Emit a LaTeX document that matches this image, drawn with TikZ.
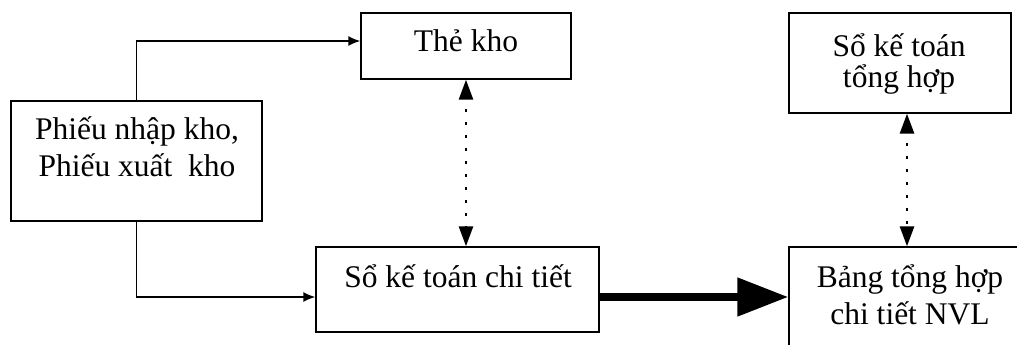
\documentclass[tikz,border=0pt]{standalone}
\usepackage{fontspec}
\setmainfont{Liberation Serif}
\usetikzlibrary{positioning,arrows.meta}

\begin{document}
\begin{tikzpicture}[x=1pt,y=-1pt,>={Latex[length=12pt,width=10pt]}]
    \tikzstyle{box}=[draw=black,line width=1.4pt,rectangle,inner sep=0pt]
    \tikzstyle{txt}=[align=center,inner sep=0pt,anchor=base,font=\fontsize{31.5}{37}\selectfont]
    \tikzstyle{link}=[->,line width=1.4pt]
    \tikzstyle{dots}=[line width=2.8pt,dash pattern=on 2.8pt off 10.2pt,dash phase=-10pt,
        {Triangle[length=20pt,width=14pt]}-{Triangle[length=20pt,width=14pt]}]
    \clip (0,0) rectangle (1017,345);
    \node[box,minimum width=251pt,minimum height=120pt] (phieu)   at (136.5,161) {};
    \node[box,minimum width=210pt,minimum height=66pt]  (thekho)  at (466,46)    {};
    \node[box,minimum width=283pt,minimum height=85pt]  (chitiet) at (457.5,289.5) {};
    \node[box,minimum width=222pt,minimum height=100pt] (tonghop) at (900,63)    {};
    \node[box,minimum width=242pt,minimum height=123pt] (bang)    at (910,308.5) {};
    \node[txt] (phieuT)   at (137,176)  {Phiếu nhập kho,\\Phiếu xuất~ kho};
    \node[txt] (thekhoT)  at (466,52)   {Thẻ kho};
    \node[txt] (chitietT) at (458,287)  {Sổ kế toán chi tiết};
    \node[txt,font=\fontsize{31.5}{32}\selectfont] (tonghopT) at (899,88) {Sổ kế toán\\tổng hợp};
    \node[txt] (bangT)    at (910,324)  {Bảng tổng hợp\\chi tiết NVL};
    \coordinate (up)   at ([yshift=5pt]thekho.west);
    \coordinate (down) at ([yshift=-7.5pt]chitiet.west);
    \coordinate (out)  at ([yshift=-7.5pt]chitiet.east);
    \coordinate (top)  at ([xshift=7pt]tonghop.south);
\draw[link] (phieu.north) |- (up);
\draw[link] (phieu.south) |- (down);
\draw[dots] (thekho.south) -- (thekho.south |- chitiet.north);
\draw[dots] (top) -- (top |- bang.north);
\draw[line width=8pt,-{Triangle[length=51pt,width=37pt]}] (out) -- (out -| bang.west);
  \end{tikzpicture}
\end{document}
